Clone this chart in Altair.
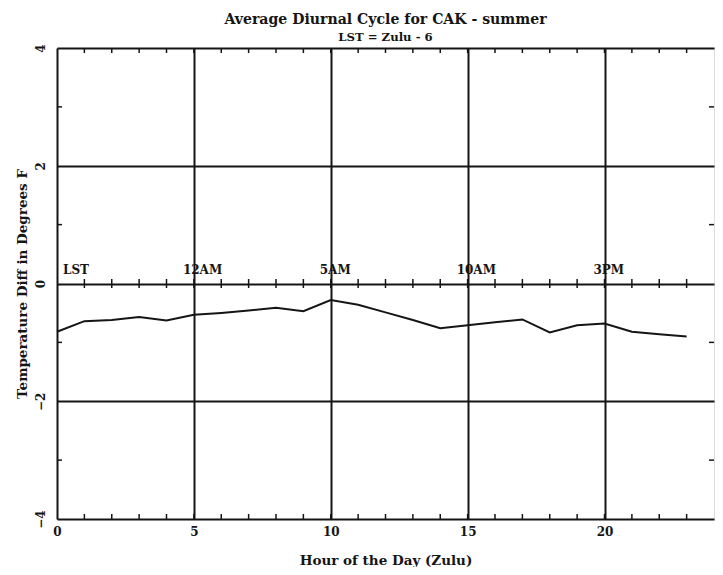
import altair as alt
import pandas as pd

# ---- data ----
hours = list(range(24))
temp_diff = [-0.82, -0.64, -0.62, -0.57, -0.63, -0.53, -0.50, -0.46, -0.41, -0.47,
             -0.28, -0.36, -0.49, -0.62, -0.76, -0.71, -0.66, -0.61, -0.83, -0.71,
             -0.68, -0.82, -0.86, -0.90]

x_ticks = [0, 5, 10, 15, 20]
y_ticks = [-4, -2, 0, 2, 4]
minor_x = list(range(1, 24))
minor_y = [-3, -1, 1, 3]

lst_hours = [0, 5, 10, 15, 20]
lst_labels = ["LST", "12AM", "5AM", "10AM", "3PM"]

FONT = "DejaVu Serif"
INK = "#151515"

df = pd.DataFrame({"hour": hours, "diff": temp_diff})
df_minor_x = pd.DataFrame({"hour": minor_x})
df_minor_y = pd.DataFrame({"val": minor_y})
df_lst = pd.DataFrame({"hour": lst_hours, "label": lst_labels})

xscale = alt.Scale(domain=[0, 24], nice=False, zero=False)
yscale = alt.Scale(domain=[-4, 4], nice=False, zero=False)

line = alt.Chart(df).mark_line(color=INK, strokeWidth=2).encode(
    x=alt.X("hour:Q", scale=xscale,
            axis=alt.Axis(values=x_ticks, title="Hour of the Day (Zulu)", format="d",
                          grid=True, gridColor=INK, gridWidth=2, gridOpacity=1,
                          ticks=False, domain=False,
                          labelFont=FONT, labelFontWeight="bold", labelFontSize=12,
                          labelColor=INK, labelPadding=7, labelFlush=False,
                          titleFont=FONT, titleFontWeight="bold", titleFontSize=13.5,
                          titleColor=INK, titlePadding=16)),
    y=alt.Y("diff:Q", scale=yscale,
            axis=alt.Axis(values=y_ticks, title="Temperature Diff in Degrees F", format="d",
                          grid=True, gridColor=INK, gridWidth=2, gridOpacity=1,
                          ticks=False, domain=False,
                          labelAngle=270, labelAlign="center", labelBaseline="bottom",
                          labelFont=FONT, labelFontWeight="bold", labelFontSize=12,
                          labelColor=INK, labelPadding=10, labelFlush=False,
                          titleFont=FONT, titleFontWeight="bold", titleFontSize=13.5,
                          titleColor=INK, titlePadding=5)),
)

tick_style = dict(color=INK, thickness=1.5, opacity=1)

bottom_ticks = alt.Chart(df_minor_x).mark_tick(orient="vertical", size=5, yOffset=-2.5, **tick_style).encode(
    x=alt.X("hour:Q", scale=xscale), y=alt.datum(-4, scale=yscale))
top_ticks = alt.Chart(df_minor_x).mark_tick(orient="vertical", size=5, yOffset=2.5, **tick_style).encode(
    x=alt.X("hour:Q", scale=xscale), y=alt.datum(4, scale=yscale))
mid_ticks = alt.Chart(df_minor_x).mark_tick(orient="vertical", size=9, **tick_style).encode(
    x=alt.X("hour:Q", scale=xscale), y=alt.datum(0, scale=yscale))
left_ticks = alt.Chart(df_minor_y).mark_tick(orient="horizontal", size=5, xOffset=2.5, **tick_style).encode(
    y=alt.Y("val:Q", scale=yscale), x=alt.datum(0, scale=xscale))
right_ticks = alt.Chart(df_minor_y).mark_tick(orient="horizontal", size=5, xOffset=-2.5, **tick_style).encode(
    y=alt.Y("val:Q", scale=yscale), x=alt.datum(24, scale=xscale))

text_style = dict(font=FONT, fontWeight="bold", fontSize=12, color=INK,
                  align="left", baseline="alphabetic", dy=-10)
lst_first = alt.Chart(df_lst).transform_filter(alt.datum.hour == 0).mark_text(dx=6, **text_style).encode(
    x=alt.X("hour:Q", scale=xscale), y=alt.datum(0, scale=yscale), text="label:N")
lst_rest = alt.Chart(df_lst).transform_filter(alt.datum.hour > 0).mark_text(dx=-11, **text_style).encode(
    x=alt.X("hour:Q", scale=xscale), y=alt.datum(0, scale=yscale), text="label:N")

chart = alt.layer(
    line, bottom_ticks, top_ticks, mid_ticks, left_ticks, right_ticks, lst_first, lst_rest
).properties(
    width=657, height=471,
    autosize=alt.AutoSizeParams(type="none"),
    padding={"left": 49, "top": 40, "right": 1, "bottom": 48},
    title=alt.TitleParams(
        text="Average Diurnal Cycle for CAK - summer",
        subtitle="LST = Zulu - 6",
        font=FONT, fontSize=14.1, fontWeight="bold", color=INK,
        subtitleFont=FONT, subtitleFontSize=11.7, subtitleFontWeight="bold", subtitleColor=INK,
        subtitlePadding=5, anchor="middle", offset=0,
    ),
).configure_view(
    stroke=INK, strokeWidth=2
).configure(background="white")

chart.save("out.html", embed_options={"renderer": "svg", "actions": False})
